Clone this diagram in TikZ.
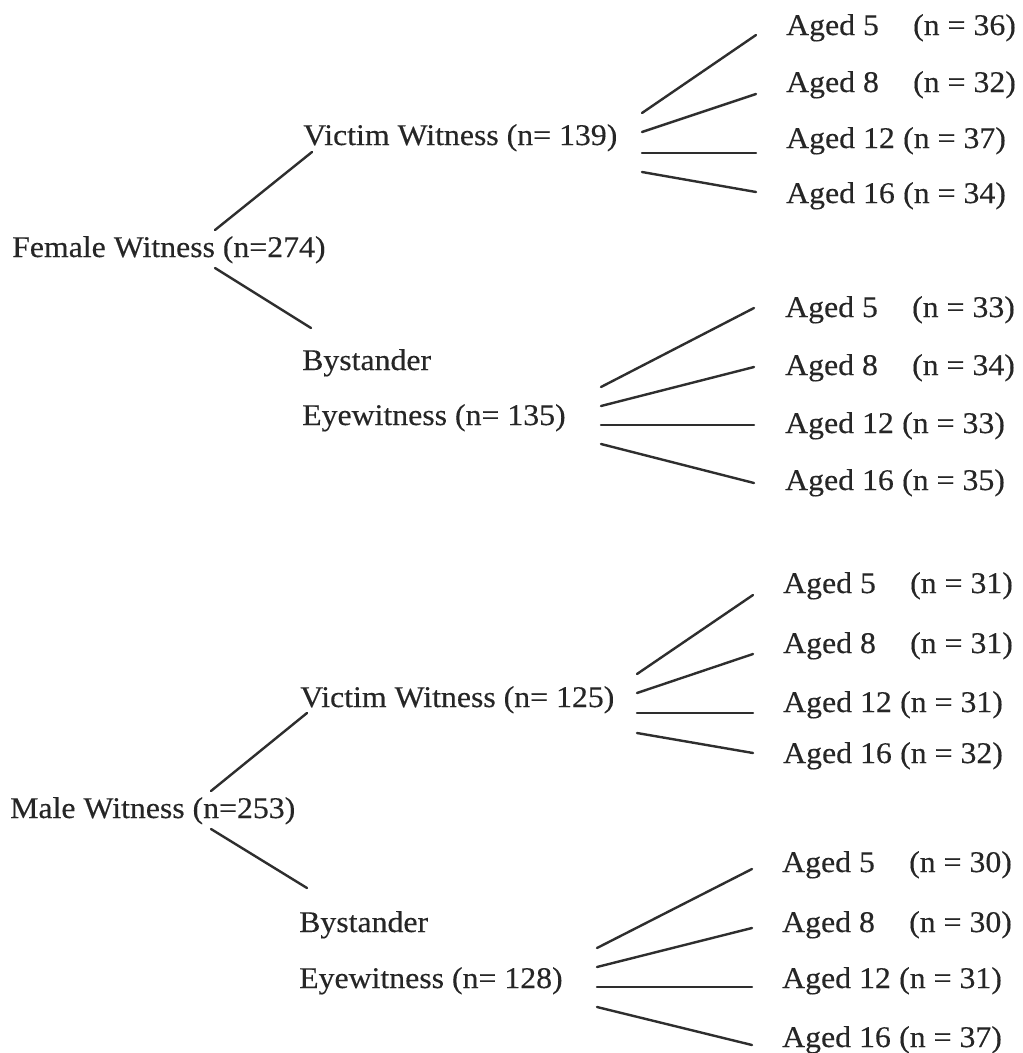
\documentclass[tikz,border=0pt]{standalone}
\usepackage{fontspec}
\setmainfont[FakeStretch=1.06,FakeBold=0.3]{Liberation Serif}
\begin{document}
\begin{tikzpicture}[x=1pt,y=-1pt,
  lbl/.style={anchor=base west,inner sep=0pt,text=black!85,font=\fontsize{30}{36}\selectfont},
  conn/.style={draw=black!82,line width=2.4pt,line cap=round}]
\useasboundingbox[fill=white] (0,0) rectangle (1023,1053);
\newcommand{\agebox}[3]{\makebox[#1pt][l]{#2}(n = #3)}
% ---------- Female ----------
\node[lbl] (fw) at (12,257) {Female Witness (n=274)};
\node[lbl] (fv) at (303,145) {Victim Witness (n= 139)};
\node[lbl] (fb1) at (302,370) {Bystander};
\node[lbl] (fb) at (302,425) {Eyewitness (n= 135)};
\node[lbl] (fv5) at (786,35) {\agebox{127}{Aged 5}{36}};
\node[lbl] (fv8) at (786,92) {\agebox{127}{Aged 8}{32}};
\node[lbl] (fv12) at (786,148) {\agebox{117}{Aged 12}{37}};
\node[lbl] (fv16) at (786,203) {\agebox{117}{Aged 16}{34}};
\node[lbl] (fb5) at (785,317) {\agebox{127}{Aged 5}{33}};
\node[lbl] (fb8) at (785,375) {\agebox{127}{Aged 8}{34}};
\node[lbl] (fb12) at (785,433) {\agebox{117}{Aged 12}{33}};
\node[lbl] (fb16) at (785,490) {\agebox{117}{Aged 16}{35}};
% ---------- Male ----------
\node[lbl] (mw) at (10,818) {Male Witness (n=253)};
\node[lbl] (mv) at (300,707) {Victim Witness (n= 125)};
\node[lbl] (mb1) at (299,932) {Bystander};
\node[lbl] (mb) at (299,988) {Eyewitness (n= 128)};
\node[lbl] (mv5) at (783,593) {\agebox{127}{Aged 5}{31}};
\node[lbl] (mv8) at (783,653) {\agebox{127}{Aged 8}{31}};
\node[lbl] (mv12) at (783,712) {\agebox{117}{Aged 12}{31}};
\node[lbl] (mv16) at (783,763) {\agebox{117}{Aged 16}{32}};
\node[lbl] (mb5) at (782,872) {\agebox{127}{Aged 5}{30}};
\node[lbl] (mb8) at (782,932) {\agebox{127}{Aged 8}{30}};
\node[lbl] (mb12) at (782,988) {\agebox{117}{Aged 12}{31}};
\node[lbl] (mb16) at (782,1047) {\agebox{117}{Aged 16}{37}};
% ---------- connector ends ----------
\coordinate (fwA) at (215,230); \coordinate (fvA) at (312,152);
\coordinate (fwB) at (215,268); \coordinate (fbA) at (311,328);
\coordinate (fvo1) at (642,113); \coordinate (fvi1) at (756,35);
\coordinate (fvo2) at (642,132); \coordinate (fvi2) at (756,94);
\coordinate (fvo3) at (642,153); \coordinate (fvi3) at (756,153);
\coordinate (fvo4) at (642,172); \coordinate (fvi4) at (756,192);
\coordinate (fbo1) at (601,387); \coordinate (fbi1) at (754,308);
\coordinate (fbo2) at (601,406); \coordinate (fbi2) at (754,367);
\coordinate (fbo3) at (601,425); \coordinate (fbi3) at (754,425);
\coordinate (fbo4) at (601,444); \coordinate (fbi4) at (754,483);
\coordinate (mwA) at (211,791); \coordinate (mvA) at (307,713);
\coordinate (mwB) at (211,829); \coordinate (mbA) at (307,888);
\coordinate (mvo1) at (637,674); \coordinate (mvi1) at (753,595);
\coordinate (mvo2) at (637,693); \coordinate (mvi2) at (753,654);
\coordinate (mvo3) at (637,713); \coordinate (mvi3) at (753,713);
\coordinate (mvo4) at (637,733); \coordinate (mvi4) at (753,753);
\coordinate (mbo1) at (597,948); \coordinate (mbi1) at (752,869);
\coordinate (mbo2) at (597,967); \coordinate (mbi2) at (752,928);
\coordinate (mbo3) at (597,987); \coordinate (mbi3) at (752,987);
\coordinate (mbo4) at (597,1007); \coordinate (mbi4) at (752,1045);
% ---------- connectors ----------
\draw[conn] (fwA) -- (fvA);
\draw[conn] (fwB) -- (fbA);
\draw[conn] (mwA) -- (mvA);
\draw[conn] (mwB) -- (mbA);
\foreach \g in {fv,fb,mv,mb}{
  \foreach \k in {1,2,3,4}{
    \draw[conn] (\g o\k) -- (\g i\k);
  }
}
\end{tikzpicture}
\end{document}
